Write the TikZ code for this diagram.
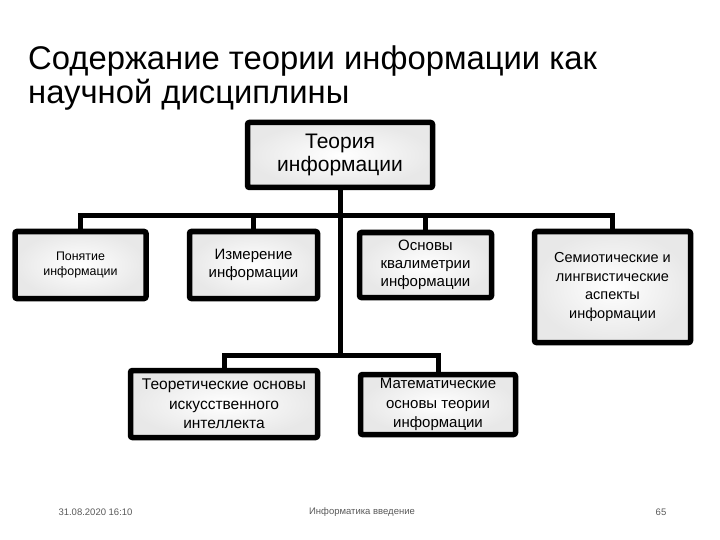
\documentclass[tikz,border=0pt]{standalone}
\usepackage{fontspec}
\setmainfont{Liberation Sans}
\begin{document}
\begin{tikzpicture}[x=1pt,y=-1pt,
  box/.style={draw=black, line width=5.5pt, rounded corners=2pt, inner color=white, outer color=gray!18, align=center, inner sep=1pt},
  conn/.style={line width=5pt, line cap=rect},
  ttl/.style={anchor=base west, inner sep=0pt, font=\fontsize{32.8}{36}\selectfont},
  foot/.style={text=gray!70!black, font=\fontsize{9.5}{11}\selectfont}]
\useasboundingbox (0,0) rectangle (720,540);
\node[ttl] (title1) at (28,70) {Содержание теории информации как};
\node[ttl] (title2) at (28,104) {научной дисциплины};
\node[box, minimum width=185pt, minimum height=65pt, font=\fontsize{21}{23}\selectfont] (top) at (340,155) {Теория\\информации};
\node[box, minimum width=131pt, minimum height=67pt, font=\fontsize{12.4}{15}\selectfont] (b1) at (80.5,265) {Понятие\\информации};
\node[box, minimum width=128pt, minimum height=67pt, font=\fontsize{15}{18.5}\selectfont] (b2) at (253.5,265) {Измерение\\информации};
\node[box, minimum width=132pt, minimum height=65pt, font=\fontsize{15}{18}\selectfont] (b3) at (425.5,265) {Основы\\квалиметрии\\информации};
\node[box, minimum width=156pt, minimum height=111pt, font=\fontsize{14.5}{18.5}\selectfont] (b4) at (612.5,287) {Семиотические и\\лингвистические\\аспекты\\информации};
\node[box, minimum width=187pt, minimum height=67pt, font=\fontsize{15.5}{19.5}\selectfont] (b5) at (224,404) {Теоретические основы\\искусственного\\интеллекта};
\node[box, minimum width=155pt, minimum height=60pt, font=\fontsize{15}{19.5}\selectfont] (b6) at (438,404.5) {Математические\\основы теории\\информации};
\coordinate (j1) at (340,216);
\coordinate (j2) at (340,355);
\draw[conn] (top.south) -- (j2);
\draw[conn] (b1.north) -- (b1.north |- j1) -- (b4.north |- j1) -- (b4.north);
\draw[conn] (b2.north) -- (b2.north |- j1);
\draw[conn] (b3.north) -- (b3.north |- j1);
\draw[conn] (b5.north) -- (b5.north |- j2) -- (b6.north |- j2) -- (b6.north);
\node[foot, anchor=west] (date) at (55,512) {31.08.2020 16:10};
\node[foot] (ftitle) at (362,512) {Информатика введение};
\node[foot] (page) at (661,512) {65};
\end{tikzpicture}
\end{document}
